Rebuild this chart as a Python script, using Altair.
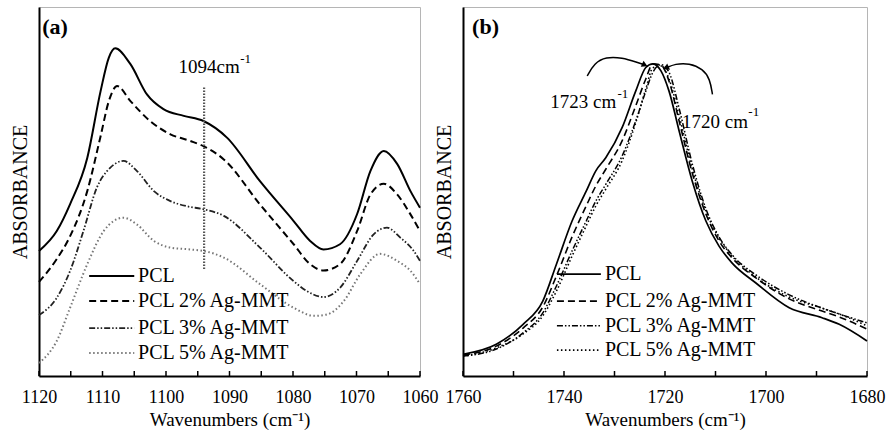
import altair as alt
import pandas as pd

FONT = "Liberation Serif"

# ---------------- Panel (a): 1120-1060 cm-1 ----------------
A_PCL_X = [1120, 1117.2, 1115.1, 1112.4, 1110.3, 1109.0, 1108.0, 1105.6, 1103.0, 1100.4, 1097.2, 1094.1,
           1090.4, 1085.2, 1079.9, 1077.3, 1075.2, 1072.6, 1069.9, 1067.8, 1065.7, 1063.6, 1061.5, 1060]
A_PCL_Y = [33.9, 39.3, 46.6, 59.1, 77.2, 86.3, 88.8, 84.5, 76.3, 72.3, 70.5, 69.1,
           64.6, 52.8, 42.0, 36.6, 34.3, 35.7, 43.9, 55.6, 61.0, 57.5, 50.1, 45.6]

A_2_X = [1120, 1117.2, 1115.1, 1112.4, 1110.3, 1109.0, 1107.7, 1105.6, 1102.5, 1099.3, 1096.2, 1094.1,
         1090.9, 1085.2, 1079.9, 1077.3, 1075.2, 1072.6, 1069.9, 1067.8, 1065.7, 1063.6, 1061.5, 1060]
A_2_Y = [25.5, 31.7, 37.9, 50.1, 65.0, 74.5, 78.6, 74.5, 69.1, 65.5, 63.7, 62.3,
         58.7, 46.5, 35.7, 30.3, 28.6, 30.3, 39.3, 49.2, 52.1, 49.2, 43.8, 39.3]

A_3_X = [1120, 1117.2, 1115.1, 1113.0, 1110.9, 1108.8, 1106.7, 1104.6, 1101.9, 1099.3, 1096.7, 1094.1,
         1090.9, 1085.2, 1079.9, 1077.8, 1075.2, 1072.6, 1069.9, 1067.3, 1065.2, 1063.1, 1061.0, 1060]
A_3_Y = [16.5, 21.2, 28.5, 39.3, 51.0, 56.4, 58.3, 55.6, 50.1, 47.4, 46.0, 45.2,
         43.4, 34.8, 25.7, 23.0, 21.4, 23.9, 31.2, 38.4, 40.2, 37.5, 33.9, 31.2]

A_5_X = [1120, 1117.2, 1115.1, 1112.4, 1109.8, 1106.7, 1104.6, 1101.9, 1099.3, 1096.2, 1094.1,
         1090.9, 1085.2, 1079.9, 1076.7, 1074.6, 1072.0, 1069.4, 1066.3, 1063.6, 1061.5, 1060]
A_5_Y = [3.5, 9.5, 18.5, 30.3, 39.3, 42.9, 41.1, 36.6, 34.8, 34.3, 33.9,
         32.1, 24.9, 18.5, 16.3, 16.7, 20.3, 27.6, 33.1, 31.2, 28.5, 24.9]

A_TICKS = [1120, 1110, 1100, 1090, 1080, 1070, 1060]
A_MINOR = [1120, 1115, 1110, 1105, 1100, 1095, 1090, 1085, 1080, 1075, 1070, 1065, 1060]
A_MARK_W = [1094]
A_MARK_LOW = [29.0]
A_MARK_HIGH = [78.6]

# ---------------- Panel (b): 1760-1680 cm-1 ----------------
B_X = [1760, 1753.4, 1748.1, 1744.2, 1741.5, 1738.4, 1735.6, 1733.7, 1731.7, 1728.5, 1725.8, 1723.8,
       1722.4, 1720.8, 1719.2, 1717.2, 1714.6, 1711.9, 1709.3, 1706.7, 1702.0, 1695.4, 1688.9, 1685.5, 1680]
B_PCL_Y = [5.9, 8.6, 14.0, 20.3, 30.3, 42.0, 50.1, 55.6, 59.2, 67.3, 77.2, 83.6,
           84.6, 82.7, 77.2, 66.4, 52.8, 42.0, 35.2, 30.6, 25.2, 18.5, 15.8, 14.0, 9.5]
B_2_Y = [5.7, 8.1, 13.0, 18.7, 27.1, 37.7, 46.1, 51.5, 56.1, 63.7, 73.2, 80.5,
         84.6, 84.3, 79.9, 69.1, 55.0, 43.9, 36.6, 32.0, 26.6, 20.9, 17.6, 16.0, 12.7]
B_3_Y = [5.4, 7.3, 11.7, 17.1, 24.4, 33.9, 42.0, 47.4, 52.0, 59.6, 69.1, 77.2,
         82.3, 84.4, 82.3, 72.5, 57.5, 45.3, 37.7, 32.8, 27.4, 22.0, 18.4, 16.8, 14.4]
B_5_Y = [5.4, 7.6, 11.4, 16.3, 23.0, 32.5, 40.7, 46.1, 50.7, 58.3, 68.6, 77.8,
         83.5, 84.0, 80.5, 70.5, 56.1, 44.7, 37.4, 32.5, 26.8, 21.4, 18.4, 16.8, 13.6]

B_TICKS = [1760, 1740, 1720, 1700, 1680]
B_MINOR = [1760, 1750, 1740, 1730, 1720, 1710, 1700, 1690, 1680]

# arrows pointing at the band maxima
B_ARC_L_X = [1735.4, 1734.0, 1731.7, 1728.5, 1725.5, 1724.0]
B_ARC_L_Y = [81.3, 84.8, 86.5, 86.3, 85.0, 84.3]
B_ARC_R_X = [1710.6, 1711.1, 1712.5, 1715.2, 1718.0, 1719.8]
B_ARC_R_Y = [76.3, 80.5, 83.2, 84.8, 84.6, 83.5]

SERIES = ["PCL", "PCL 2% Ag-MMT", "PCL 3% Ag-MMT", "PCL 5% Ag-MMT"]
DASHES = [None, [7, 4], [6, 2, 1.5, 2, 1.5, 2], [1.5, 2.5]]

W_A, W_B, H = 381, 404, 369


def make_xy(dom, ticks):
    X = alt.X("w:Q",
              scale=alt.Scale(domain=dom, reverse=True, nice=False, zero=False),
              axis=alt.Axis(values=ticks, format="d", title="Wavenumbers (cm⁻¹)",
                            ticks=False, labelFlush=False, labelPadding=12, titlePadding=4))
    Y = alt.Y("a:Q", scale=alt.Scale(domain=[0, 100], nice=False, zero=False),
              axis=alt.Axis(labels=False, ticks=False, title="ABSORBANCE",
                            titlePadding=9, titleFontSize=20))
    return X, Y


def line(xs, ys, X, Y, dash, color, width, interp="monotone"):
    df = pd.DataFrame({"w": xs, "a": ys})
    kw = dict(color=color, strokeWidth=width, interpolate=interp)
    if dash:
        kw["strokeDash"] = dash
    return alt.Chart(df).mark_line(**kw).encode(x=X, y=Y)


def ticks_layer(vals, X):
    df = pd.DataFrame({"w": vals})
    return alt.Chart(df).mark_rule(color="black", strokeWidth=1.5).encode(
        x=X, y=alt.value(H), y2=alt.value(H - 5))


def text(df, X, Y, size, align="left", weight="normal", baseline="alphabetic"):
    return alt.Chart(df).mark_text(font=FONT, fontSize=size, align=align, color="black",
                                   fontWeight=weight, baseline=baseline).encode(
        x=X, y=Y, text="t:N")


def legend(X, Y, x1, x2, xt, rows, colors, widths):
    layers = []
    for name, dash, c, wd, r in zip(SERIES, DASHES, colors, widths, rows):
        df = pd.DataFrame({"w": [x1], "w2": [x2], "a": [r]})
        kw = dict(color=c, strokeWidth=wd)
        if dash:
            kw["strokeDash"] = dash
        layers.append(alt.Chart(df).mark_rule(**kw).encode(x=X, x2=alt.X2("w2"), y=Y))
        layers.append(text(pd.DataFrame({"w": [xt], "a": [r], "t": [name]}), X, Y, 20,
                           baseline="middle"))
    return layers


# ----- panel (a)
XA, YA = make_xy([1060, 1120], A_TICKS)
a_colors = ["black", "black", "#222", "#777"]
a_widths = [2, 2, 1.8, 2]
pa_layers = [
    line(A_PCL_X, A_PCL_Y, XA, YA, DASHES[0], a_colors[0], a_widths[0]),
    line(A_2_X, A_2_Y, XA, YA, DASHES[1], a_colors[1], a_widths[1]),
    line(A_3_X, A_3_Y, XA, YA, DASHES[2], a_colors[2], a_widths[2]),
    line(A_5_X, A_5_Y, XA, YA, DASHES[3], a_colors[3], a_widths[3]),
    alt.Chart(pd.DataFrame({"w": A_MARK_W, "a": A_MARK_LOW, "a2": A_MARK_HIGH}))
    .mark_rule(color="#555", strokeWidth=2.2, strokeDash=[1.5, 1.5])
    .encode(x=XA, y=YA, y2=alt.Y2("a2")),
    ticks_layer(A_MINOR, XA),
    text(pd.DataFrame({"w": [1093.2], "a": [82.1], "t": ["1094cm"]}), XA, YA, 19, align="center"),
    text(pd.DataFrame({"w": [1088.3], "a": [84.8], "t": ["-1"]}), XA, YA, 13),
    text(pd.DataFrame({"w": [1119.5], "a": [92.7], "t": ["(a)"]}), XA, YA, 22, weight="bold"),
] + legend(XA, YA, 1112.1, 1105.0, 1104.4, [27.1, 20.3, 13.0, 6.2], a_colors, a_widths)
pa = alt.layer(*pa_layers).properties(width=W_A, height=H)

# ----- panel (b)
XB, YB = make_xy([1680, 1760], B_TICKS)
b_colors = ["black", "black", "black", "black"]
b_widths = [1.7, 1.6, 1.5, 1.6]
pb_layers = [
    line(B_X, B_PCL_Y, XB, YB, DASHES[0], b_colors[0], b_widths[0]),
    line(B_X, B_2_Y, XB, YB, DASHES[1], b_colors[1], b_widths[1]),
    line(B_X, B_3_Y, XB, YB, DASHES[2], b_colors[2], b_widths[2]),
    line(B_X, B_5_Y, XB, YB, DASHES[3], b_colors[3], b_widths[3]),
    line(B_ARC_L_X, B_ARC_L_Y, XB, YB, None, "black", 1.5, "basis"),
    line(B_ARC_R_X, B_ARC_R_Y, XB, YB, None, "black", 1.5, "basis"),
    alt.Chart(pd.DataFrame({"w": [B_ARC_L_X[-1]], "a": [B_ARC_L_Y[-1]]}))
    .mark_point(shape="triangle-right", angle=25, filled=True, size=45, color="black", opacity=1)
    .encode(x=XB, y=YB),
    alt.Chart(pd.DataFrame({"w": [B_ARC_R_X[-1]], "a": [B_ARC_R_Y[-1]]}))
    .mark_point(shape="triangle-left", angle=335, filled=True, size=45, color="black", opacity=1)
    .encode(x=XB, y=YB),
    ticks_layer(B_MINOR, XB),
    text(pd.DataFrame({"w": [1736.2], "a": [72.6], "t": ["1723 cm"]}), XB, YB, 19, align="center"),
    text(pd.DataFrame({"w": [1729.4], "a": [75.3], "t": ["-1"]}), XB, YB, 13),
    text(pd.DataFrame({"w": [1710.1], "a": [67.2], "t": ["1720 cm"]}), XB, YB, 19, align="center"),
    text(pd.DataFrame({"w": [1703.5], "a": [70.5], "t": ["-1"]}), XB, YB, 13),
    text(pd.DataFrame({"w": [1758.2], "a": [92.7], "t": ["(b)"]}), XB, YB, 22, weight="bold"),
] + legend(XB, YB, 1741.4, 1732.7, 1731.9, [27.6, 20.3, 13.6, 7.0], b_colors, b_widths)
pb = alt.layer(*pb_layers).properties(width=W_B, height=H)

chart = (
    alt.hconcat(pa, pb, spacing=43, bounds="flush")
    .properties(padding={"left": 9, "top": 6, "right": 0, "bottom": 0}, background="white")
    .configure_view(stroke="#b5b5b5", strokeWidth=1)
    .configure_axis(domainColor="black", domainWidth=2, grid=False,
                    labelFont=FONT, labelFontSize=18, labelColor="black",
                    titleFont=FONT, titleFontSize=19, titleFontWeight="normal", titleColor="black")
)

chart.save("out.html", embed_options={"renderer": "svg", "actions": False})
